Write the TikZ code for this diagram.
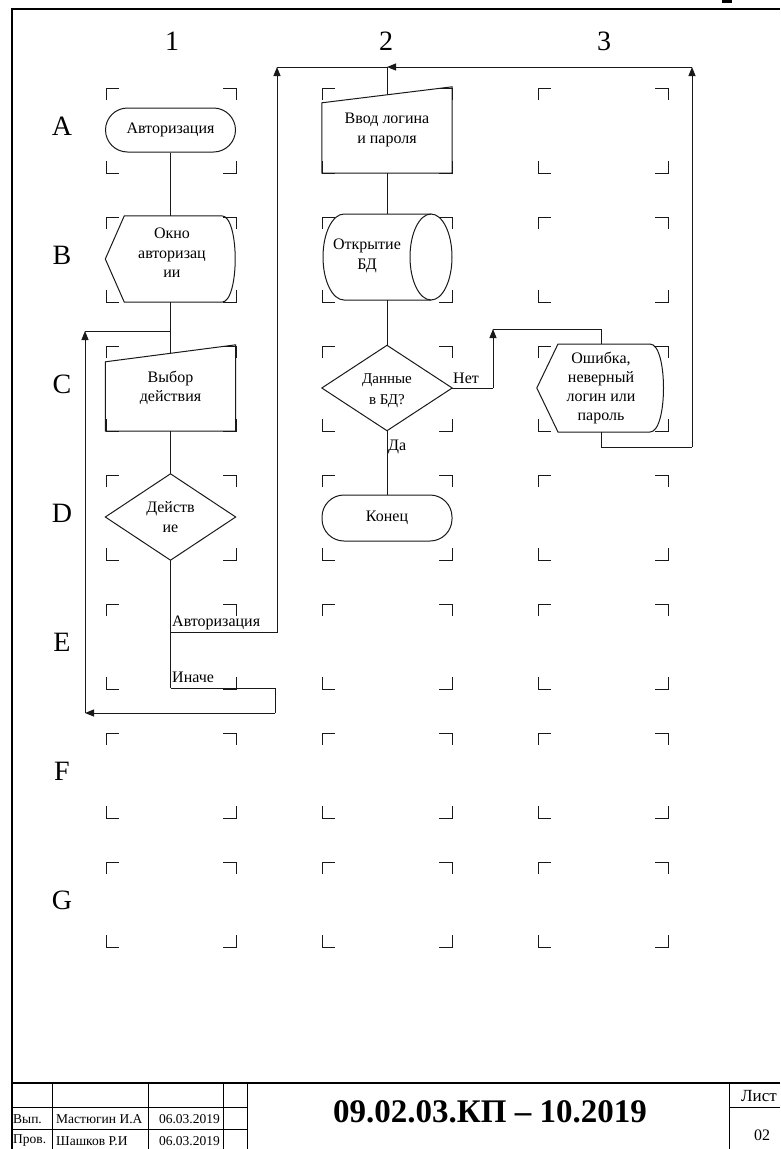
\documentclass[tikz,border=0pt]{standalone}
\usepackage{fontspec}
\setmainfont{Liberation Serif}
\usetikzlibrary{arrows.meta,calc}
\begin{document}
\begin{tikzpicture}[x=1pt,y=-1pt,
 ln/.style={line width=1pt,draw=black!90},
 arr/.style={ln,-{Triangle[length=9pt,width=7pt]}},
 box/.style={draw=none,inner sep=0pt,align=center,font=\fontsize{16}{19.5}\selectfont},
 ttxt/.style={inner sep=0pt,align=center,font=\fontsize{16}{19.5}\selectfont},
 term/.style={box,draw=black!90,line width=1pt,rounded corners=22pt},
 brk/.style={line width=1pt,draw=black!90},
 lbl/.style={font=\fontsize{28}{28}\selectfont,anchor=base,inner sep=0pt},
 elab/.style={font=\fontsize{16}{16}\selectfont,anchor=west,inner sep=0pt},
 small/.style={font=\fontsize{13.5}{14}\selectfont,inner sep=0pt}]
\useasboundingbox (0,0) rectangle (780,1149);

% frame
\draw[line width=1.1pt] (12,1149) -- (12,9) -- (780,9);
\fill (722,0) rectangle (732,3);

% column and row labels
\foreach \t/\x in {1/172,2/386,3/604} \node[lbl] at (\x,50) {\t};
\foreach \t/\y in {A/88,B/217,C/346,D/475,E/604,F/733,G/862} \node[lbl] at (62,\y+47) {\t};

% corner brackets
\foreach \x in {106,322,538} \foreach \y in {88,217,346,475,604,733,862} {
 \draw[brk] (\x,\y+12) -- (\x,\y) -- (\x+13,\y);
 \draw[brk] (\x+117,\y) -- (\x+130,\y) -- (\x+130,\y+12);
 \draw[brk] (\x,\y+73) -- (\x,\y+85) -- (\x+13,\y+85);
 \draw[brk] (\x+117,\y+85) -- (\x+130,\y+85) -- (\x+130,\y+73);
}

% column 1
\node[term,minimum width=130pt,minimum height=44pt] (a1) at (170.5,130) {Авторизация};
\node[box,minimum width=130pt,minimum height=86pt] (b1) at (170.5,259) {};
\node[ttxt] (b1t) at (172,253) {Окно\\авторизац\\ии};
\draw[ln] (b1.west) -- ($(b1.north west)+(19,0)$) -- ($(b1.north east)+(-14,0)$)
  .. controls ($(b1.north east)+(4,0)$) and ($(b1.south east)+(4,0)$) .. ($(b1.south east)+(-14,0)$)
  -- ($(b1.south west)+(19,0)$) -- cycle;
\node[box,minimum width=130pt,minimum height=86pt] (c1) at (170.5,388) {Выбор\\действия};
\draw[ln] (c1.south west) -- ($(c1.north west)+(0,17)$) -- (c1.north east) -- (c1.south east) -- cycle;
\node[box,minimum width=130pt,minimum height=86pt] (d1) at (170.5,517) {Действ\\ие};
\draw[ln] (d1.west) -- (d1.north) -- (d1.east) -- (d1.south) -- cycle;

% column 2
\node[box,minimum width=130pt,minimum height=86pt] (vv) at (387,130) {Ввод логина\\и пароля};
\draw[ln] (vv.south west) -- ($(vv.north west)+(0,16)$) -- (vv.north east) -- (vv.south east) -- cycle;
\node[box,minimum width=129pt,minimum height=86pt] (bd) at (387,257) {};
\node[ttxt] (bdt) at (367,256) {Открытие\\БД};
\draw[ln] (431,214) -- (344,214) .. controls (332.4,214) and (323,233.25) .. (323,257)
  .. controls (323,280.75) and (332.4,300) .. (344,300) -- (431,300);
\draw[ln] (431,257) ellipse [x radius=21pt, y radius=43pt];
\node[box,minimum width=130pt,minimum height=85pt] (dn) at (387,388) {};
\node[ttxt,font=\fontsize{15}{21}\selectfont] (dnt) at (387,391) {Данные\\в БД?};
\draw[ln] (dn.west) -- (dn.north) -- (dn.east) -- (dn.south) -- cycle;
\node[term,minimum width=130pt,minimum height=46pt] (kn) at (387,518) {Конец};

% column 3
\node[box,minimum width=128pt,minimum height=88pt,font=\fontsize{16}{18.8}\selectfont] (er) at (601,388) {Ошибка,\\неверный\\логин или\\пароль};
\draw[ln] (er.west) -- (558,344) -- (650,344) .. controls (668,344) and (668,432) .. (650,432) -- (558,432) -- cycle;

% helper coordinates
\coordinate (e1) at (170.5,632);
\coordinate (e2) at (170.5,688);
\coordinate (top1) at (277,67);
\coordinate (top2) at (387,67);
\coordinate (top3) at (692,67);
\coordinate (r1) at (275,713);
\coordinate (l1) at (85,713);
\coordinate (l2) at (85,331);
\coordinate (j1) at (170.5,331);
\coordinate (n1) at (493,388);
\coordinate (n2) at (493,329);
\coordinate (q1) at (692,447);

% connectors
\draw[ln] (a1.south) -- (b1.north);
\draw[ln] (b1.south) -- ($(c1.north)+(0,8.5)$);
\draw[ln] (c1.south) -- (d1.north);
\draw[ln] (d1.south) -- (e2);
\draw[arr] (e1) -| (top1);
\draw[ln] (top1) -- (top2) -- ($(vv.north)+(0,8)$);
\draw[ln] (e2) -| (r1);
\draw[arr] (r1) -- (l1);
\draw[arr] (l1) -- (l2);
\draw[ln] (l2) -- (j1);

\draw[ln] (vv.south) -- (bd.north);
\draw[ln] (bd.south) -- (dn.north);
\draw[ln] (dn.south) -- (kn.north);
\draw[ln] (dn.east) -- (n1);
\draw[arr] (n1) -- (n2);
\draw[ln] (n2) -| (er.north);
\draw[ln] (er.south) |- (q1);
\draw[arr] (q1) -- (top3);
\draw[arr] (top3) -- (top2);

% connector labels
\node[elab] (lauth) at (172,623) {Авторизация};
\node[elab] (lelse) at (172,677) {Иначе};
\node[elab] (lno) at (453,378) {Нет};
\node[elab] (lyes) at (388,447) {Да};

% title block
\draw[line width=1.1pt] (12,1083) -- (780,1083);
\foreach \x in {52,148,223,247} \draw[line width=1pt] (\x,1083) -- (\x,1149);
\draw[line width=1pt] (12,1107) -- (247,1107);
\draw[line width=1pt] (12,1129) -- (247,1129);
\draw[line width=1pt] (729,1083) -- (729,1149);
\draw[line width=1pt] (729,1107) -- (780,1107);
\node[small,anchor=west] (t1) at (13,1119) {Вып.};
\node[small,anchor=west] (t2) at (56,1119) {Мастюгин И.А};
\node[small,anchor=east] (t3) at (220,1119) {06.03.2019};
\node[small,anchor=west] (t4) at (13,1141) {Пров.};
\node[small,anchor=west] (t5) at (56,1141) {Шашков Р.И};
\node[small,anchor=east] (t6) at (220,1141) {06.03.2019};
\node[font=\bfseries\fontsize{33}{33}\selectfont,inner sep=0pt] (title) at (490,1112) {09.02.03.КП – 10.2019};
\node[font=\fontsize{17}{17}\selectfont,inner sep=0pt] (sheet) at (759,1096) {Лист};
\node[font=\fontsize{16}{16}\selectfont,inner sep=0pt] (sheetno) at (762,1135) {02};
\end{tikzpicture}
\end{document}
